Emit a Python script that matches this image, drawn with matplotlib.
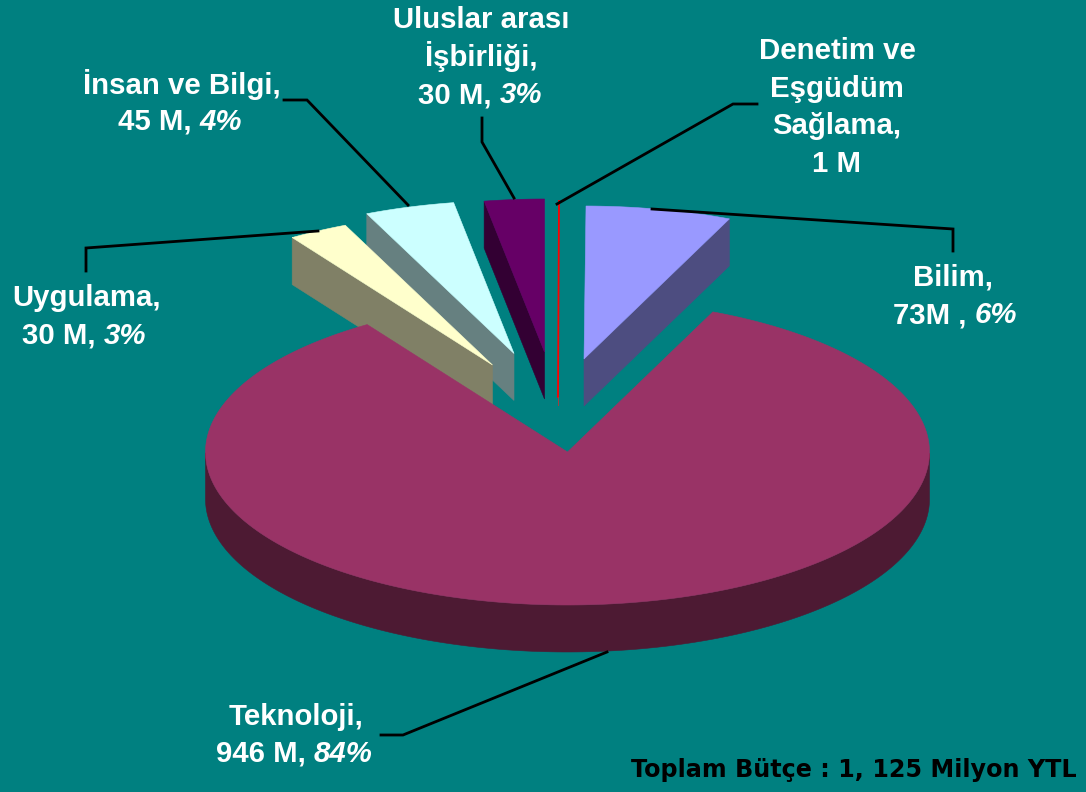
import numpy as np
from matplotlib import pyplot as plt
from matplotlib.patches import Polygon

# Budget shares, clockwise from the top of the pie
names = ["Denetim", "Bilim", "Teknoloji", "Uygulama", "Insan", "Uluslar"]
values = [1, 73, 946, 30, 45, 30]

top_colors = ["#ff0000", "#9999ff", "#993366", "#ffffcc", "#ccffff", "#660066"]
side_colors = ["#ff0000", "#4d4d80", "#4d1a33", "#808066", "#668080", "#330033"]

# apex of each slice in pixels (the pie is exploded by hand)
apex_x = [558, 584, 567.5, 492.5, 514, 544.5]
apex_y = [354, 359, 452, 365, 353.5, 352]

# which radial face is visible
side_edge = [None, "end", None, "start", "start", "start"]
draw_order = [5, 0, 1, 4, 3, 2]

# -------------------------------------------------
# Layout constants
# -------------------------------------------------
W, H = 1086, 792
RX, RY, DEPTH = 362, 153, 47
BG = "#008080"

leaders = [
    [(652, 209), (953, 229), (953, 251)],
    [(557, 204), (733, 104), (757, 104)],
    [(514, 198), (482, 142), (482, 118)],
    [(408, 205), (307, 100), (284, 100)],
    [(318, 231), (86, 248), (86, 271)],
    [(607, 652), (403, 735), (381, 735)],
]

# (center x, baseline y, bold part, italic part)
label_lines = [
    (481, 28, "Uluslar arası", ""),
    (481, 66, "İşbirliği,", ""),
    (480, 103, "30 M, ", "3%"),
    (182, 94, "İnsan ve Bilgi,", ""),
    (180, 130, "45 M, ", "4%"),
    (837, 59, "Denetim ve", ""),
    (837, 97, "Eşgüdüm", ""),
    (837, 134, "Sağlama,", ""),
    (837, 172, "1 M", ""),
    (953, 285, "Bilim,", ""),
    (955, 323, "73M , ", "6%"),
    (87, 306, "Uygulama,", ""),
    (84, 344, "30 M, ", "3%"),
    (296, 725, "Teknoloji,", ""),
    (294, 762, "946 M, ", "84%"),
]

total_label = "Toplam Bütçe : 1, 125 Milyon YTL"


def rim(ax_, ay_, ang_deg):
    """Rim points of the flattened ellipse, angles clockwise from the top."""
    a = np.radians(ang_deg)
    return ax_ + RX * np.sin(a), ay_ - RY * np.cos(a)


fig = plt.figure(figsize=(W / 100, H / 100), dpi=100, facecolor=BG)
ax = fig.add_axes([0, 0, 1, 1])
ax.set_xlim(0, W)
ax.set_ylim(H, 0)
ax.axis("off")


def add_poly(xs, ys, color, z, lw=0.4):
    ax.add_patch(Polygon(np.column_stack([xs, ys]), closed=True, facecolor=color,
                         edgecolor=color, linewidth=lw, zorder=z))


# slice angles come straight from the values
shares = np.array(values, float) / sum(values) * 360
ends = np.cumsum(shares)
starts = ends - shares

for z, i in enumerate(draw_order):
    x0, y0 = apex_x[i], apex_y[i]
    angles = np.linspace(starts[i], ends[i], 300)
    rx, ry = rim(x0, y0, angles)

    # the 1 M slice is under a degree wide, it only reads as a red line
    if names[i] == "Denetim":
        mx, my = rim(x0, y0, (starts[i] + ends[i]) / 2)
        ax.plot([mx, x0], [my, y0 + DEPTH - 4], color=top_colors[i], linewidth=1.3, zorder=z + 1)
        ax.plot([x0, x0], [y0 + DEPTH - 4, y0 + DEPTH + 4], color="#a04040", linewidth=0.7, zorder=z + 1)
        continue

    # outer wall, only the front half of the ellipse shows
    front = angles[(angles >= 90) & (angles <= 270)]
    if len(front) and names[i] == "Teknoloji":
        fx, fy = rim(x0, y0, front)
        add_poly(np.r_[fx, fx[::-1]], np.r_[fy, fy[::-1] + DEPTH], side_colors[i], z + 1)

    # radial cut face
    if side_edge[i]:
        ang = starts[i] if side_edge[i] == "start" else ends[i]
        ex, ey = rim(x0, y0, ang)
        add_poly([x0, ex, ex, x0], [y0, ey, ey + DEPTH, y0 + DEPTH], side_colors[i], z + 1)

    # top face
    add_poly(np.r_[x0, rx], np.r_[y0, ry], top_colors[i], z + 1)

for pts in leaders:
    xs, ys = zip(*pts)
    ax.plot(xs, ys, color="black", linewidth=2.0, zorder=20, solid_joinstyle="miter")

# -------------------------------------------------
# Labels, bold text followed by an italic percentage
# -------------------------------------------------
renderer = fig.canvas.get_renderer()
font = dict(family="Liberation Sans", fontsize=21.2, color="white", fontweight="bold",
            va="baseline", zorder=30)

for cx, by, bold, ital in label_lines:
    t1 = ax.text(0, by, bold, ha="left", **font)
    w1 = t1.get_window_extent(renderer).width
    # trailing spaces are not in the ink box, measure with a stand-in
    if bold.endswith(" "):
        w1 = ax.text(0, by, bold.rstrip() + " |", alpha=0, **font).get_window_extent(renderer).width
        w1 -= ax.text(0, by, "|", alpha=0, **font).get_window_extent(renderer).width
    w2 = 0
    if ital:
        t2 = ax.text(0, by, ital, ha="left", fontstyle="italic", **font)
        w2 = t2.get_window_extent(renderer).width
    left = cx - (w1 + w2) / 2
    t1.set_x(left)
    if ital:
        t2.set_x(left + w1)

ax.text(1077, 777, total_label, family="DejaVu Sans", fontsize=17.2, fontweight="bold",
        color="black", ha="right", va="baseline", zorder=30)

fig.savefig("out.png", dpi=100, facecolor=BG)
